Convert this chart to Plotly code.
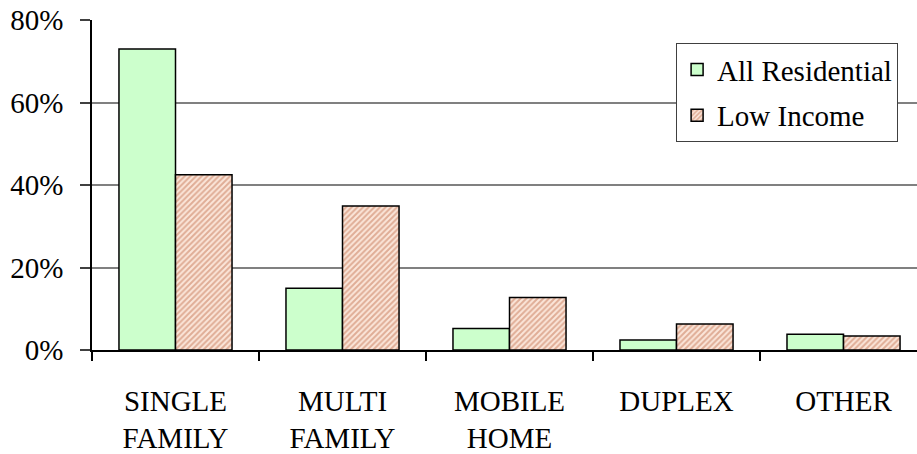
import plotly.graph_objects as go

# Dwelling type shares for all residential vs. low-income households
categories = ["SINGLE<br>FAMILY", "MULTI<br>FAMILY", "MOBILE<br>HOME", "DUPLEX", "OTHER"]
all_residential = [0.730, 0.150, 0.052, 0.024, 0.038]
low_income = [0.425, 0.349, 0.127, 0.063, 0.034]
y_ticks = [0, 0.2, 0.4, 0.6, 0.8]
y_tick_text = ["0%", "20%", "40%", "60%", "80%"]

FONT = "Liberation Serif"

fig = go.Figure()
fig.add_trace(go.Bar(
    name="All Residential",
    x=categories,
    y=all_residential,
    legendgroup="a",
    marker=dict(color="#CCFFCC", line=dict(color="black", width=1.5)),
))
fig.add_trace(go.Bar(
    name="Low Income",
    x=categories,
    y=low_income,
    legendgroup="b",
    marker=dict(
        color="#EFC6B4",
        line=dict(color="black", width=1.5),
        pattern=dict(shape="/", fgcolor="#C47352", bgcolor="#FBE6DA",
                     size=4, solidity=0.5),
    ),
))

fig.update_layout(
    width=917,
    height=454,
    margin=dict(l=92, r=0, t=20, b=103.5),
    paper_bgcolor="white",
    plot_bgcolor="white",
    barmode="group",
    bargap=0.323,
    bargroupgap=0,
    font=dict(family=FONT, size=29, color="black"),
    showlegend=True,
    legend=dict(
        x=0.708, y=0.93, xanchor="left", yanchor="top",
        bordercolor="#404040", borderwidth=1, bgcolor="white",
        font=dict(family=FONT, size=29),
        traceorder="grouped", tracegroupgap=5,
        itemwidth=30,
    ),
)

fig.update_xaxes(
    type="category",
    range=[-0.5, 4.44],
    showline=True, linecolor="black", linewidth=1.5,
    ticks="outside", tickson="boundaries", ticklen=9, tickwidth=1.5, tickcolor="black",
    showgrid=False,
    ticklabelstandoff=24,
    tickfont=dict(family=FONT, size=29),
)
fig.update_yaxes(
    range=[0, 0.8],
    tickvals=y_ticks, ticktext=y_tick_text,
    showline=True, linecolor="black", linewidth=1.5,
    ticks="outside", ticklen=10, tickwidth=1.5, tickcolor="#404040",
    showgrid=True, gridcolor="#808080", gridwidth=1.5,
    zeroline=False,
    ticklabelstandoff=11,
    tickfont=dict(family=FONT, size=29),
)

fig.write_html("out.html")
